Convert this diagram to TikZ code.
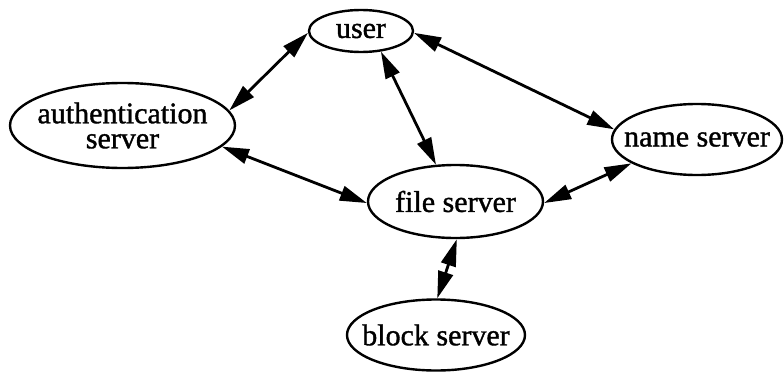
\documentclass[tikz,border=0pt]{standalone}
\usepackage{fontspec}
\setmainfont{Liberation Serif}
\newfontfamily\inkfont{Liberation Serif}[RawFeature={embolden=1.2}]
\usetikzlibrary{arrows.meta,shapes.geometric}

\tikzset{
  srv/.style={ellipse, draw, line width=2.4pt, inner sep=0pt},
  lbl/.style={inner sep=0pt, align=center,
    font=\inkfont\fontsize{30}{25}\selectfont},
  link/.style={line width=2.8pt,
    {Triangle[length=27pt,width=15pt]}-{Triangle[length=27pt,width=15pt]}}
}

\begin{document}
\begin{tikzpicture}[x=1pt,y=-1pt]
  \useasboundingbox (0,0) rectangle (784,372);

  % server outlines
  \node[srv, minimum width=104pt, minimum height=42pt] (user) at (361,31) {};
  \node[srv, minimum width=225pt, minimum height=85pt] (auth) at (122.5,125.5) {};
  \node[srv, minimum width=170pt, minimum height=71pt] (name) at (697,139.5) {};
  \node[srv, minimum width=175pt, minimum height=73pt] (file) at (455.5,201.5) {};
  \node[srv, minimum width=178pt, minimum height=71pt] (block) at (436,335) {};

  % server names
  \node[lbl] (userT) at (user) {user};
  \node[lbl] (authT) at (auth) {authentication\\server};
  \node[lbl] (nameT) at (name) {name server};
  \node[lbl] (fileT) at (file) {file server};
  \node[lbl] (blockT) at (block) {block server};

  % two-way connections
  \draw[link] (user.182) -- (auth.8.6);
  \draw[link] (user.-46) -- (file.118);
  \draw[link] (user.-2) -- (name.173.6);
  \draw[link] (auth.-12) -- (file.181);
  \draw[link] (name.200.8) -- (file.-1);
  \draw[link] (file.-88) -- (block.88);
\end{tikzpicture}
\end{document}
